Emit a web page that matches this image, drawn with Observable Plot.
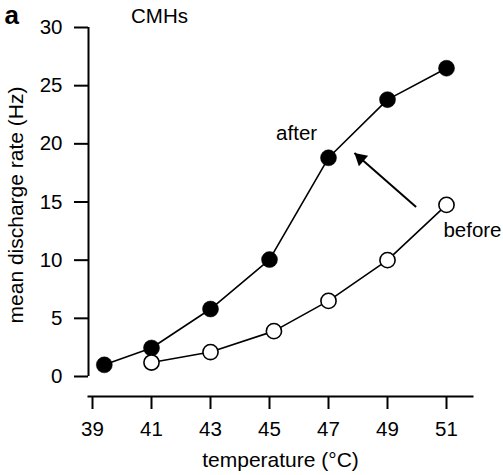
<!DOCTYPE html>
<html><head><meta charset="utf-8">
<script src="https://cdn.jsdelivr.net/npm/d3@7"></script>
<script src="https://cdn.jsdelivr.net/npm/@observablehq/plot@0.6"></script>
<style>body{margin:0;background:#fff}</style>
</head><body><div id="chart"></div>
<script>
// after (filled circles)
const tempsAfter = [39.4, 41, 43, 45, 47, 49, 51];
const rateAfter = [1.0, 2.45, 5.8, 10.05, 18.8, 23.8, 26.5];
// before (open circles)
const tempsBefore = [41, 43, 45.15, 47, 49, 51];
const rateBefore = [1.2, 2.1, 3.9, 6.5, 10.0, 14.75];
const xTicks = [39, 41, 43, 45, 47, 49, 51];
const yTicks = [0, 5, 10, 15, 20, 25, 30];
const annoText = ["CMHs", "after", "before"];
const annoX = [41.27, 45.92, 51.88];
const annoY = [30.37, 20.31, 11.99];
const arrowFrom = [49.97, 14.57];
const arrowTo = [47.88, 19.21];

const afterData = tempsAfter.map((t, i) => ({t, r: rateAfter[i]}));
const beforeData = tempsBefore.map((t, i) => ({t, r: rateBefore[i]}));
const annoData = annoText.map((s, i) => ({s, x: annoX[i], y: annoY[i]}));
const arrowData = [{x1: arrowFrom[0], y1: arrowFrom[1], x2: arrowTo[0], y2: arrowTo[1]}];

const fs = 20.5;
const chart = Plot.plot({
  width: 503, height: 475,
  marginLeft: 88, marginRight: 31, marginTop: 27, marginBottom: 79,
  x: {domain: [xTicks[0], xTicks[xTicks.length - 1]], insetLeft: 4, insetRight: 26},
  y: {domain: [yTicks[0], yTicks[yTicks.length - 1]], insetBottom: 20},
  style: {fontFamily: "Liberation Sans, Arial, sans-serif", fontSize: fs + "px", color: "#000", background: "#fff"},
  marks: [
    Plot.axisX({ticks: xTicks, tickSize: 13, tickPadding: 12, strokeWidth: 2, fontSize: fs, label: null}),
    Plot.frame({anchor: "bottom", strokeWidth: 2}),
    Plot.axisY({ticks: yTicks, tickSize: 14, tickPadding: 12, strokeWidth: 2, fontSize: fs, label: null}),
    Plot.ruleX([xTicks[0]], {y1: yTicks[0], y2: yTicks[yTicks.length - 1], dx: -4, strokeWidth: 2}),
    Plot.line(afterData, {x: "t", y: "r", stroke: "black", strokeWidth: 1.6}),
    Plot.line(beforeData, {x: "t", y: "r", stroke: "black", strokeWidth: 1.6}),
    Plot.dot(afterData, {x: "t", y: "r", r: 8, fill: "black", stroke: "black", strokeWidth: 0.5}),
    Plot.dot(beforeData, {x: "t", y: "r", r: 7.6, fill: "white", stroke: "black", strokeWidth: 1.6}),
    Plot.text(annoData, {x: "x", y: "y", text: "s", lineAnchor: "bottom", fontSize: fs, fill: "black"}),
    Plot.link(arrowData, {x1: "x1", y1: "y1", x2: "x2", y2: "y2", stroke: "black", strokeWidth: 2}),
    Plot.dot(arrowData, {x: "x2", y: "y2", symbol: "triangle", r: 5.2, fill: "black", stroke: "none", rotate: -48.8, dx: 6, dy: 5.3}),
    Plot.text(["mean discharge rate (Hz)"], {text: d => d, frameAnchor: "left", textAnchor: "middle", rotate: -90, dx: -66, dy: -7, lineAnchor: "bottom", fontSize: 21, fill: "black"}),
    Plot.text(["temperature (°C)"], {text: d => d, frameAnchor: "bottom", textAnchor: "middle", dy: 70, lineAnchor: "bottom", fontSize: 21, fill: "black"}),
    Plot.text(["a"], {text: d => d, frameAnchor: "top-left", dx: -84, dy: -4, textAnchor: "start", lineAnchor: "bottom", fontWeight: "bold", fontSize: 26, fill: "black"})
  ]
});
document.getElementById("chart").appendChild(chart);
</script>
</body></html>
